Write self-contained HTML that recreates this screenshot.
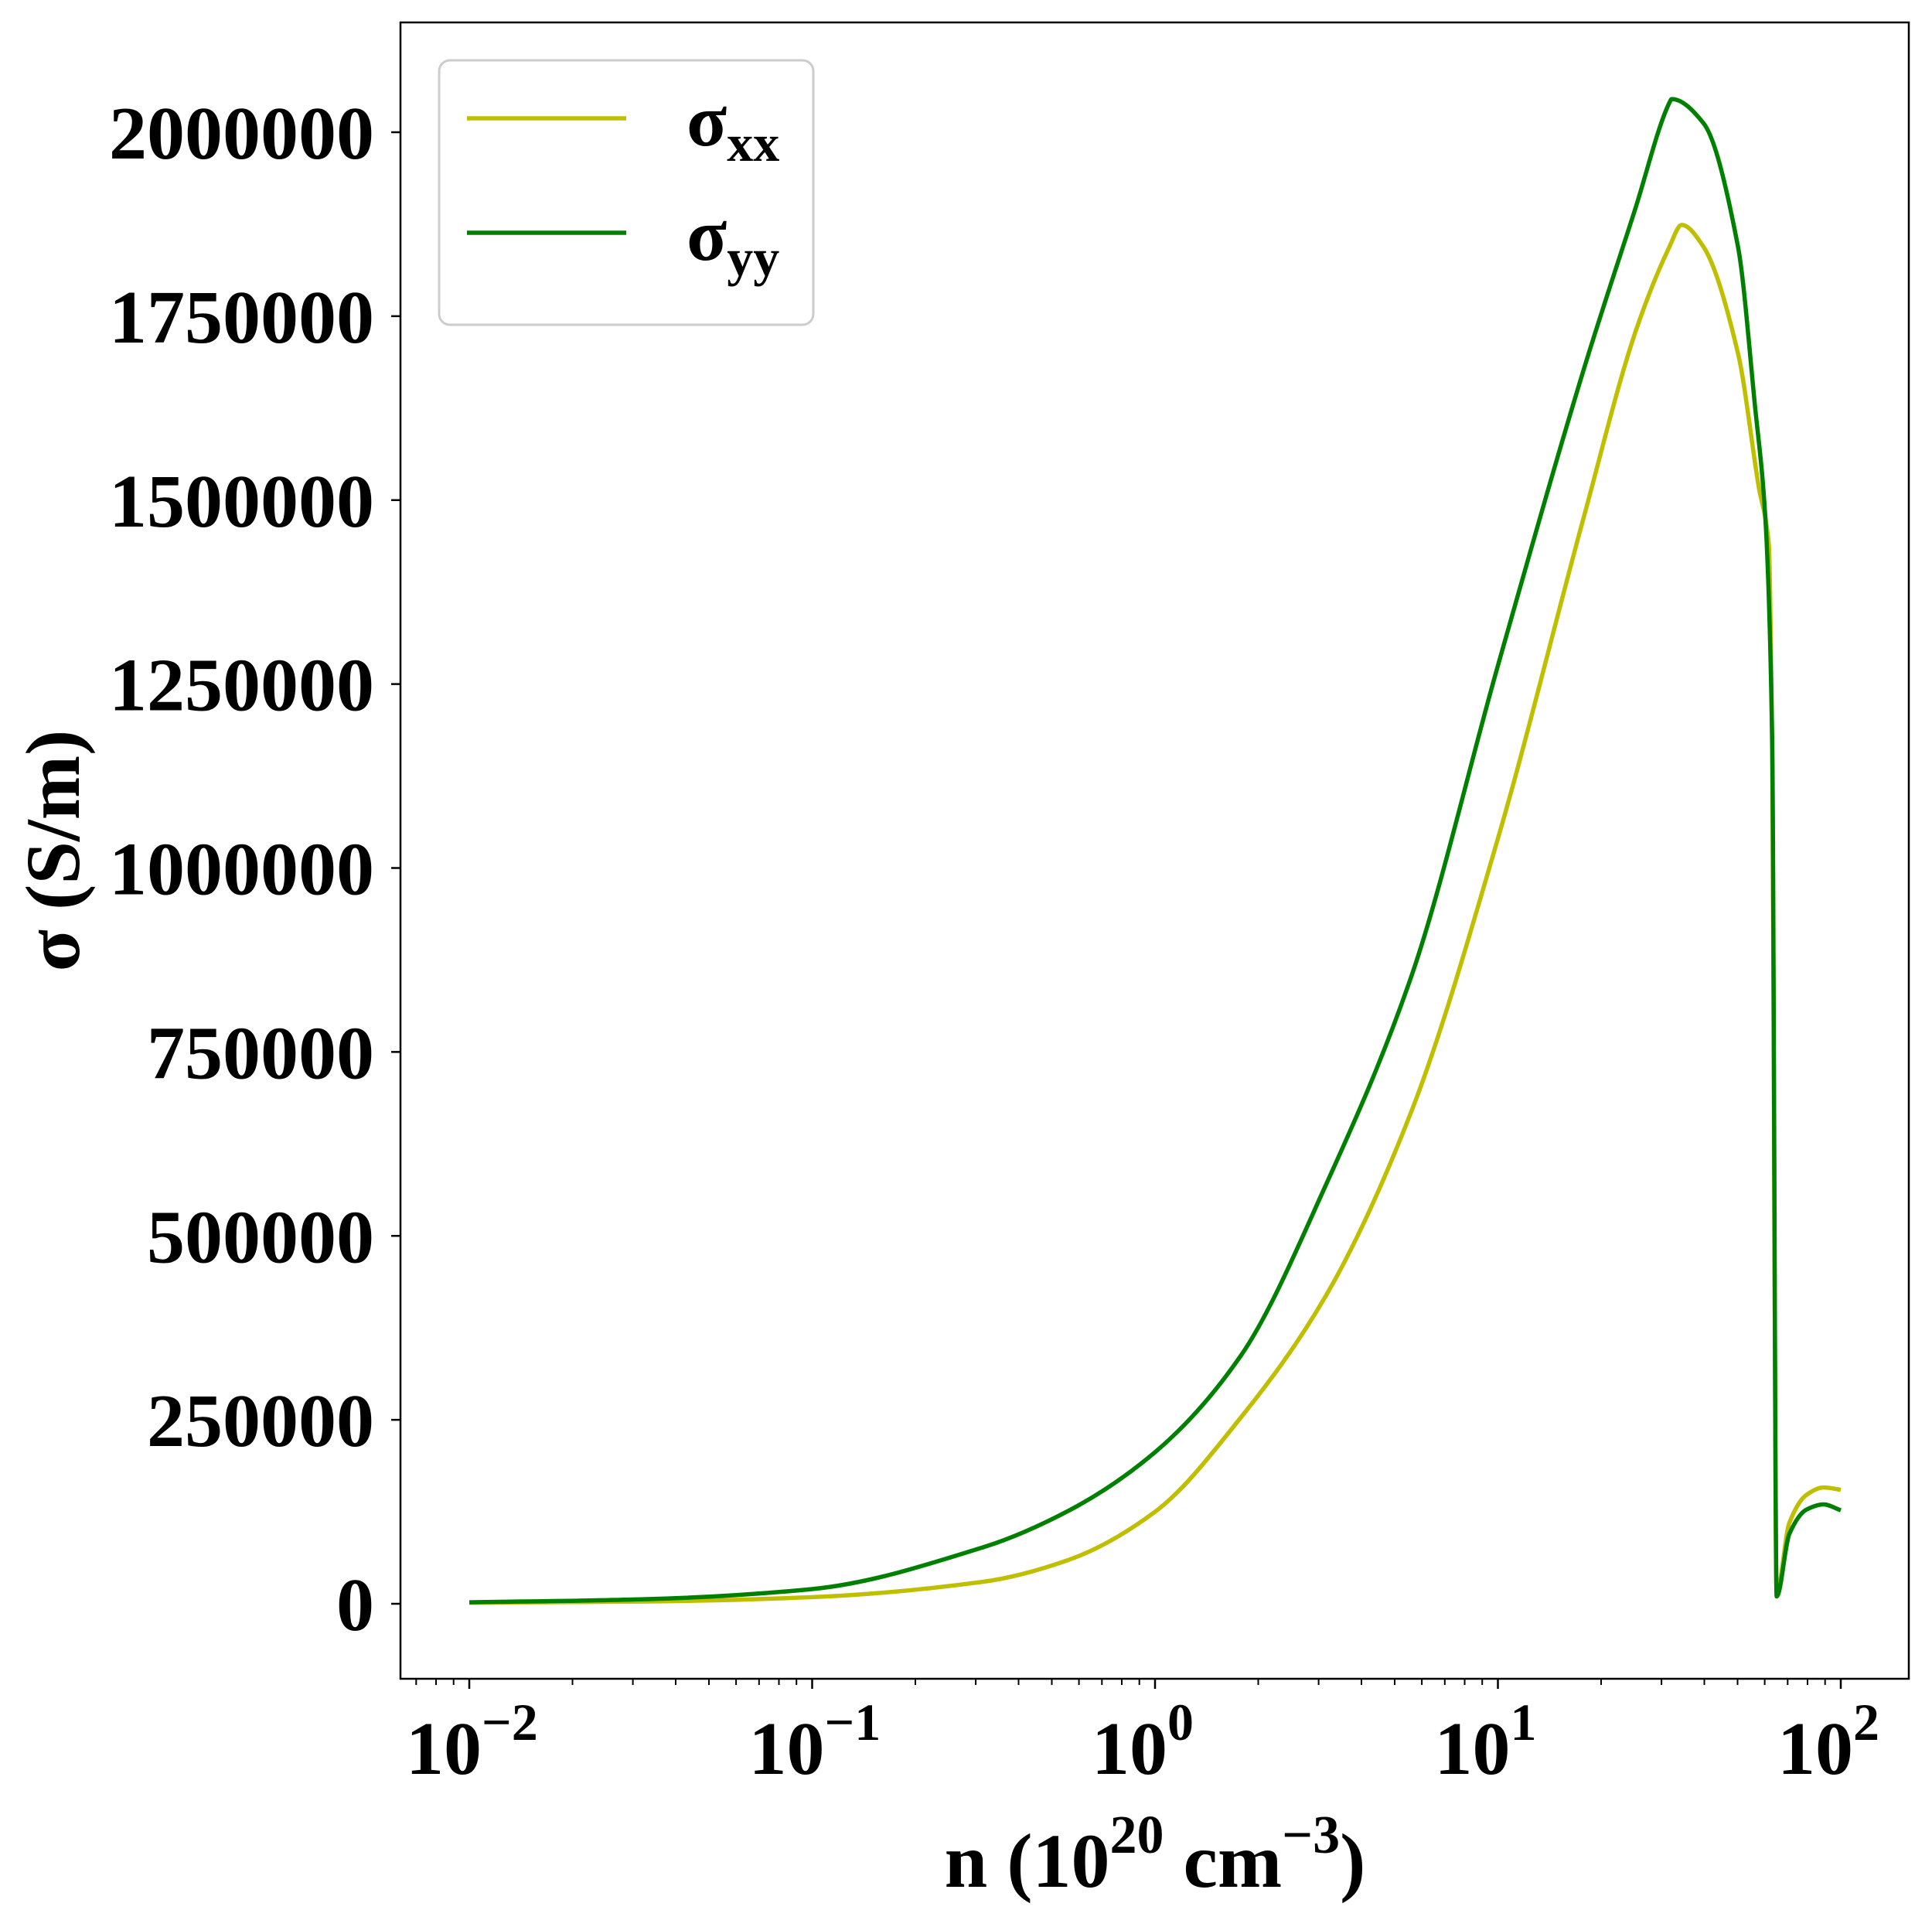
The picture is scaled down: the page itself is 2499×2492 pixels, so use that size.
<!DOCTYPE html>
<html><head><meta charset="utf-8"><style>
html,body{margin:0;padding:0;background:#fff;}
svg{display:block;font-family:"Liberation Serif","Times New Roman",serif;font-weight:bold;}
</style></head><body>
<svg id="chart" width="2499" height="2492" viewBox="0 0 2499 2492" xmlns="http://www.w3.org/2000/svg">
<rect x="518" y="29" width="1951" height="2142" fill="none" stroke="#000" stroke-width="2.5"/>
<g id="series"></g>
<g id="axes"></g>
<text x="1494" y="2440" font-size="100" text-anchor="middle">n (10<tspan dy="-44" font-size="70">20</tspan><tspan dy="44"> cm</tspan><tspan dy="-44" font-size="70">−3</tspan><tspan dy="44">)</tspan></text>
<text transform="translate(102,1100) rotate(-90)" font-size="100" text-anchor="middle">σ (S/m)</text>
<g>
<rect x="568" y="78" width="484" height="342" rx="14" fill="#fff" stroke="#ccc" stroke-width="3"/>
<line x1="604" y1="153" x2="810" y2="153" stroke="#bfbf00" stroke-width="5.5"/>
<text x="888" y="188" font-size="96">σ<tspan dy="20" font-size="68">xx</tspan></text>
<line x1="604" y1="301" x2="810" y2="301" stroke="#008000" stroke-width="5.5"/>
<text x="888" y="336" font-size="96">σ<tspan dy="20" font-size="68">yy</tspan></text>
</g>
</svg>
<script>
const logN = [-2,-1.5,-1,-0.5,-0.25,0,0.25,0.5,0.75,1,1.25,1.4,1.5,1.536,1.6,1.7,1.76,1.79,1.8,1.813,1.85,1.9,1.95,2];
const sigmaXX = [1500,3000,9000,30000,60000,125000,253000,420000,672000,1040000,1476000,1727000,1844000,1874000,1844000,1700000,1520000,1440000,1150000,15000,110000,148000,158000,155000];
const logNyy = [-2,-1.5,-1,-0.5,-0.25,0,0.25,0.5,0.75,1,1.25,1.4,1.5,1.507,1.6,1.7,1.75,1.78,1.8,1.813,1.85,1.9,1.95,2];
const sigmaYY = [2000,6000,20000,77000,127000,206000,337000,571000,856000,1275000,1677000,1895000,2040000,2045000,2012000,1845000,1627000,1476000,1175000,10000,95000,128000,135000,127000];
const yTicks = [0,250000,500000,750000,1000000,1250000,1500000,1750000,2000000];
const xTickExp = [-2,-1,0,1,2];
const NS='http://www.w3.org/2000/svg';
function xs(l){return 607+(l+2)*(2381-607)/4;}
function ys(v){return 2074-v*(2074-171)/2000000;}
const axes=document.getElementById('axes');
function mk(tag,attrs,parent){const e=document.createElementNS(NS,tag);for(const k in attrs)e.setAttribute(k,attrs[k]);parent.appendChild(e);return e;}
yTicks.forEach(v=>{
  const t=mk('line',{x1:506,x2:518,y1:ys(v),y2:ys(v),stroke:'#000','stroke-width':2.5},axes);
  
  
  const tx=mk('text',{x:484,y:ys(v)+34,'font-size':98,'text-anchor':'end'},axes);
  
  
  tx.textContent=String(v);
});
xTickExp.forEach(e=>{
  const t=mk('line',{x1:xs(e),x2:xs(e),y1:2171,y2:2184,stroke:'#000','stroke-width':2.5},axes);
  
  
  const tx=mk('text',{x:xs(e)-82,y:2294,'font-size':98},axes);
  
  
  tx.innerHTML='10<tspan dy="-44" font-size="68">'+(e<0?'−'+(-e):e)+'</tspan>';
});
for(let d=-3;d<=2;d++){for(let m=2;m<=9;m++){const l=d+Math.log10(m);const x=xs(l);if(x<518||x>2469)continue;
  const t=mk('line',{x1:x,x2:x,y1:2171,y2:2179,stroke:'#000','stroke-width':2},axes);
  
  }}
function path(xv,yv){
  const p=xv.map((l,i)=>[xs(l),ys(yv[i])]);
  const n=p.length, dl=[], m=[];
  for(let i=0;i<n-1;i++) dl.push((p[i+1][1]-p[i][1])/(p[i+1][0]-p[i][0]));
  for(let i=0;i<n;i++){
    if(i===0) m.push(dl[0]); else if(i===n-1) m.push(dl[n-2]);
    else if(dl[i-1]*dl[i]<=0) m.push(0);
    else { const a=dl[i-1],b=dl[i]; m.push(2*a*b/(a+b)); }
  }
  let d='M'+p[0][0]+','+p[0][1];
  for(let i=0;i<n-1;i++){
    const h=(p[i+1][0]-p[i][0])/3;
    d+=' C'+(p[i][0]+h)+','+(p[i][1]+m[i]*h)+' '+(p[i+1][0]-h)+','+(p[i+1][1]-m[i+1]*h)+' '+p[i+1][0]+','+p[i+1][1];
  }
  return d;
}
const series=document.getElementById('series');
const a=mk('path',{d:path(logN,sigmaXX),fill:'none',stroke:'#bfbf00','stroke-width':5.5,'stroke-linejoin':'round'},series);


const b=mk('path',{d:path(logNyy,sigmaYY),fill:'none',stroke:'#008000','stroke-width':5.5,'stroke-linejoin':'round'},series);


</script>
</body></html>
